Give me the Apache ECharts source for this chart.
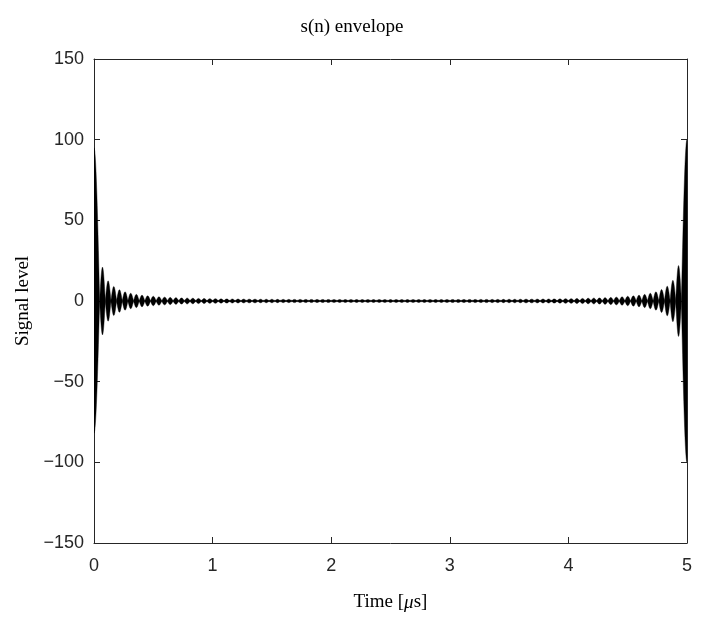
<!DOCTYPE html>
<html><head><meta charset="utf-8">
<script src="https://cdn.jsdelivr.net/npm/echarts@6/dist/echarts.min.js"></script>
<style>html,body{margin:0;padding:0;background:#fff}#c{width:704px;height:617px}</style>
</head><body><div id="c"></div>
<script>
// ---- data ----
const titleText = 's(n) envelope';
const xTicks = [0, 1, 2, 3, 4, 5];
const yTicks = [-150, -100, -50, 0, 50, 100, 150];
const timeSpan = 5;          // μs
const lobeCount = 105;       // number of lobe spacings over the span
const mainStartUp = 95, mainStartDown = -82;   // spike at t = 0
const mainEndUp = 100, mainEndDown = -100;     // spike at t = 5
const sideLobeAmp = [
  21, 12.5, 9, 7, 5.7, 4.8, 4.1, 3.6, 3.2, 2.9,
  2.6, 2.4, 2.2, 2.05, 1.9, 1.8, 1.7, 1.6, 1.52, 1.45,
  1.39, 1.34, 1.29, 1.25, 1.21, 1.18, 1.15, 1.12, 1.1, 1.08,
  1.06, 1.04, 1.02, 1.01, 1.0, 0.99, 0.98, 0.97, 0.96, 0.95,
  0.95, 0.94, 0.94, 0.93, 0.93, 0.92, 0.92, 0.92, 0.92, 0.91,
  0.91, 0.91,
  0.91, 0.91, 0.92, 0.92, 0.92, 0.92, 0.93, 0.93, 0.94, 0.94, 0.95,
  0.95, 0.96, 0.97, 0.98, 0.99, 1.0, 1.01, 1.02, 1.04, 1.06,
  1.08, 1.1, 1.12, 1.15, 1.18, 1.21, 1.25, 1.29, 1.34, 1.39,
  1.45, 1.52, 1.6, 1.7, 1.8, 1.9, 2.05, 2.2, 2.4, 2.6,
  2.9, 3.2, 3.6, 4.1, 4.8, 5.7, 7.1, 9.2, 12.8, 22
];

// ---- build lobe items [tStart, tEnd, up, down, kind] ----
const p = timeSpan / lobeCount;
const lobes = [];
lobes.push([0, p, mainStartUp, mainStartDown, 1]);
sideLobeAmp.forEach((a, i) => {
  lobes.push([(i + 1) * p, (i + 2) * p, a, -a, 0]);
});
lobes.push([timeSpan - p, timeSpan, mainEndUp, mainEndDown, 2]);

function renderLobe(params, api) {
  const t0 = api.value(0), t1 = api.value(1);
  const up = api.value(2), dn = api.value(3), kind = api.value(4);
  const zeroY = api.coord([0, 0])[1];
  const n = 14, top = [], bot = [];
  for (let j = 0; j <= n; j++) {
    const f = j / n;
    const t = t0 + (t1 - t0) * f;
    let s;
    if (kind === 0) s = Math.sin(Math.PI * f);
    else if (kind === 1) s = Math.cos(Math.PI / 2 * f);
    else s = Math.sin(Math.PI / 2 * f);
    const pu = api.coord([t, up * s]);
    const pd = api.coord([t, dn * s]);
    top.push([pu[0], Math.min(pu[1], zeroY - 0.7)]);
    bot.push([pd[0], Math.max(pd[1], zeroY + 0.7)]);
  }
  const pts = top.concat(bot.reverse());
  return {
    type: 'polygon',
    shape: { points: pts },
    style: { fill: '#000', stroke: '#000', lineWidth: 0.4 }
  };
}

const axisCol = '#262626';
const tickFont = { fontFamily: 'Liberation Sans, Arial, sans-serif', fontSize: 18, color: axisCol };
const serif = 'Liberation Serif, Times New Roman, serif';

const chart = echarts.init(document.getElementById('c'), null, { renderer: 'canvas' });
chart.setOption({
  animation: false,
  backgroundColor: '#fff',
  title: {
    text: titleText, left: 'center', top: 13,
    textStyle: { fontFamily: serif, fontSize: 19, fontWeight: 'normal', color: '#000' }
  },
  grid: { left: 94, right: 17, top: 59, bottom: 74 },
  xAxis: [{
    type: 'value', min: xTicks[0], max: xTicks[xTicks.length - 1], interval: 1,
    position: 'bottom',
    name: '{n|Time [}{i|μ}{n|s]}', nameLocation: 'middle', nameGap: 50,
    nameTextStyle: {
      rich: {
        n: { fontFamily: serif, fontSize: 19, color: '#000' },
        i: { fontFamily: serif, fontSize: 19, fontStyle: 'italic', color: '#000' }
      }
    },
    axisLine: { show: true, onZero: false, lineStyle: { color: axisCol, width: 1 } },
    axisTick: { show: true, inside: true, length: 6, lineStyle: { color: axisCol } },
    axisLabel: Object.assign({ margin: 14 }, tickFont),
    splitLine: { show: false }
  }, {
    type: 'value', min: xTicks[0], max: xTicks[xTicks.length - 1], interval: 1,
    position: 'top',
    axisLine: { show: true, onZero: false, lineStyle: { color: axisCol, width: 1 } },
    axisTick: { show: true, inside: true, length: 6, lineStyle: { color: axisCol } },
    axisLabel: { show: false }, splitLine: { show: false }
  }],
  yAxis: [{
    type: 'value', min: yTicks[0], max: yTicks[yTicks.length - 1], interval: 50,
    position: 'left',
    name: 'Signal level', nameLocation: 'middle', nameGap: 52,
    nameTextStyle: { fontFamily: serif, fontSize: 19, color: '#000' },
    axisLine: { show: true, onZero: false, lineStyle: { color: axisCol, width: 1 } },
    axisTick: { show: true, inside: true, length: 6, lineStyle: { color: axisCol } },
    axisLabel: Object.assign({
      margin: 10,
      formatter: v => (v < 0 ? '\u2212' + Math.abs(v) : String(v))
    }, tickFont),
    splitLine: { show: false }
  }, {
    type: 'value', min: yTicks[0], max: yTicks[yTicks.length - 1], interval: 50,
    position: 'right',
    axisLine: { show: true, onZero: false, lineStyle: { color: axisCol, width: 1 } },
    axisTick: { show: true, inside: true, length: 6, lineStyle: { color: axisCol } },
    axisLabel: { show: false }, splitLine: { show: false }
  }],
  series: [{
    type: 'custom',
    name: 's(n)',
    xAxisIndex: 0, yAxisIndex: 0,
    renderItem: renderLobe,
    encode: { x: [0, 1], y: [2, 3] },
    data: lobes,
    clip: true,
    silent: true
  }]
});
</script>
</body></html>
